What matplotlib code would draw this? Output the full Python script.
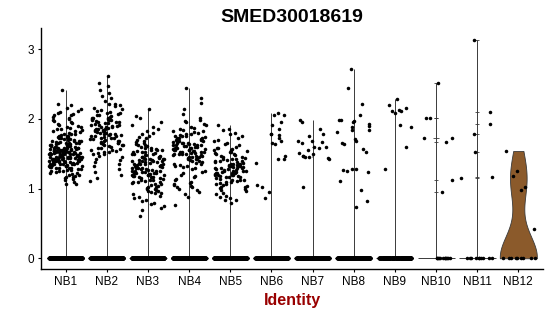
import numpy as np
import matplotlib
matplotlib.use("Agg")
from matplotlib import pyplot as plt

plt.rcParams['font.family'] = ['Liberation Sans', 'DejaVu Sans']

# Data (expression per cell, nonzero cells listed, zero cells counted)
groups = ["NB1", "NB2", "NB3", "NB4", "NB5", "NB6", "NB7", "NB8", "NB9", "NB10", "NB11", "NB12"]

nb1 = [2.41, 2.22, 2.20, 2.16, 2.14, 2.12, 2.10, 2.09, 2.07, 2.05, 2.05, 2.03, 2.01, 2.00, 1.98, 1.97, 1.95, 1.94, 1.93, 1.91,
       1.90, 1.89, 1.88, 1.87, 1.86, 1.85, 1.84, 1.83, 1.82, 1.81, 1.80, 1.79, 1.79, 1.78, 1.77, 1.76, 1.76, 1.75, 1.74, 1.74,
       1.73, 1.72, 1.72, 1.71, 1.71, 1.70, 1.70, 1.69, 1.69, 1.68, 1.68, 1.67, 1.67, 1.66, 1.66, 1.65, 1.65, 1.65, 1.64, 1.64,
       1.63, 1.63, 1.63, 1.62, 1.62, 1.62, 1.61, 1.61, 1.61, 1.60, 1.60, 1.60, 1.59, 1.59, 1.59, 1.58, 1.58, 1.58, 1.57, 1.57,
       1.57, 1.57, 1.56, 1.56, 1.56, 1.55, 1.55, 1.55, 1.55, 1.54, 1.54, 1.54, 1.53, 1.53, 1.53, 1.53, 1.52, 1.52, 1.52, 1.52,
       1.51, 1.51, 1.51, 1.51, 1.50, 1.50, 1.50, 1.50, 1.49, 1.49, 1.49, 1.49, 1.48, 1.48, 1.48, 1.48, 1.47, 1.47, 1.47, 1.47,
       1.46, 1.46, 1.46, 1.46, 1.45, 1.45, 1.45, 1.45, 1.44, 1.44, 1.44, 1.44, 1.43, 1.43, 1.43, 1.43, 1.42, 1.42, 1.42, 1.42,
       1.41, 1.41, 1.41, 1.40, 1.40, 1.40, 1.40, 1.39, 1.39, 1.39, 1.38, 1.38, 1.38, 1.37, 1.37, 1.37, 1.36, 1.36, 1.36, 1.35,
       1.35, 1.35, 1.34, 1.34, 1.33, 1.33, 1.33, 1.32, 1.32, 1.31, 1.31, 1.30, 1.30, 1.29, 1.29, 1.28, 1.28, 1.27, 1.27, 1.26,
       1.25, 1.25, 1.24, 1.23, 1.22, 1.21, 1.20, 1.19, 1.18, 1.17, 1.16, 1.15, 1.14, 1.12, 1.10, 1.07, 1.06]
nb2 = [2.62, 2.51, 2.48, 2.41, 2.37, 2.33, 2.30, 2.26, 2.22, 2.21, 2.20, 2.18, 2.16, 2.14, 2.13, 2.11, 2.10, 2.09, 2.08, 2.07,
       2.06, 2.05, 2.04, 2.03, 2.02, 2.02, 2.01, 2.00, 2.00, 1.99, 1.98, 1.98, 1.97, 1.96, 1.96, 1.95, 1.94, 1.94, 1.93, 1.92,
       1.92, 1.91, 1.90, 1.90, 1.89, 1.88, 1.88, 1.87, 1.86, 1.86, 1.85, 1.84, 1.84, 1.83, 1.82, 1.82, 1.81, 1.80, 1.80, 1.79,
       1.79, 1.78, 1.77, 1.77, 1.76, 1.75, 1.75, 1.74, 1.73, 1.73, 1.72, 1.71, 1.71, 1.70, 1.69, 1.69, 1.68, 1.67, 1.66, 1.66,
       1.65, 1.64, 1.63, 1.63, 1.62, 1.61, 1.60, 1.59, 1.58, 1.57, 1.56, 1.55, 1.54, 1.53, 1.52, 1.51, 1.50, 1.49, 1.47, 1.45,
       1.43, 1.41, 1.38, 1.35, 1.32, 1.28, 1.24, 1.20, 1.15, 1.11]
nb3 = [2.14, 2.04, 2.02, 1.96, 1.92, 1.88, 1.85, 1.82, 1.80, 1.78, 1.76, 1.74, 1.72, 1.70, 1.68, 1.67, 1.66, 1.64, 1.63, 1.62,
       1.61, 1.60, 1.59, 1.58, 1.57, 1.56, 1.55, 1.55, 1.54, 1.53, 1.52, 1.52, 1.51, 1.50, 1.50, 1.49, 1.48, 1.48, 1.47, 1.46,
       1.46, 1.45, 1.45, 1.44, 1.44, 1.43, 1.43, 1.42, 1.42, 1.41, 1.41, 1.40, 1.40, 1.39, 1.39, 1.38, 1.38, 1.37, 1.37, 1.36,
       1.36, 1.35, 1.35, 1.34, 1.34, 1.33, 1.33, 1.32, 1.32, 1.31, 1.31, 1.30, 1.30, 1.29, 1.29, 1.28, 1.28, 1.27, 1.27, 1.26,
       1.26, 1.25, 1.25, 1.24, 1.24, 1.23, 1.23, 1.22, 1.22, 1.21, 1.21, 1.20, 1.20, 1.19, 1.19, 1.18, 1.18, 1.17, 1.16, 1.16,
       1.15, 1.15, 1.14, 1.13, 1.13, 1.12, 1.11, 1.10, 1.10, 1.09, 1.08, 1.07, 1.06, 1.05, 1.04, 1.03, 1.02, 1.01, 1.00, 0.99,
       0.98, 0.97, 0.96, 0.95, 0.94, 0.93, 0.92, 0.90, 0.88, 0.86, 0.84, 0.82, 0.80, 0.78, 0.75, 0.72, 0.70, 0.61]
nb4 = [2.45, 2.30, 2.23, 2.14, 2.07, 2.02, 1.98, 1.97, 1.95, 1.93, 1.91, 1.89, 1.87, 1.85, 1.84, 1.83, 1.82, 1.81, 1.80, 1.79,
       1.78, 1.77, 1.76, 1.75, 1.75, 1.74, 1.73, 1.72, 1.72, 1.71, 1.70, 1.70, 1.69, 1.68, 1.68, 1.67, 1.66, 1.66, 1.65, 1.65,
       1.64, 1.64, 1.63, 1.63, 1.62, 1.62, 1.61, 1.61, 1.60, 1.60, 1.59, 1.59, 1.58, 1.58, 1.57, 1.57, 1.56, 1.56, 1.55, 1.55,
       1.54, 1.54, 1.53, 1.53, 1.52, 1.52, 1.51, 1.51, 1.50, 1.50, 1.49, 1.49, 1.48, 1.48, 1.47, 1.47, 1.46, 1.46, 1.45, 1.44,
       1.44, 1.43, 1.42, 1.42, 1.41, 1.40, 1.39, 1.38, 1.37, 1.36, 1.35, 1.34, 1.33, 1.32, 1.31, 1.30, 1.28, 1.26, 1.24, 1.22,
       1.20, 1.18, 1.16, 1.14, 1.12, 1.10, 1.08, 1.06, 1.05, 1.04, 1.03, 1.02, 1.00, 0.98, 0.95, 0.92, 0.88, 0.76]
nb5 = [1.91, 1.86, 1.84, 1.80, 1.78, 1.75, 1.72, 1.70, 1.68, 1.66, 1.64, 1.62, 1.60, 1.59, 1.58, 1.57, 1.56, 1.55, 1.54, 1.53,
       1.52, 1.51, 1.50, 1.49, 1.48, 1.47, 1.46, 1.45, 1.44, 1.43, 1.42, 1.42, 1.41, 1.40, 1.40, 1.39, 1.38, 1.38, 1.37, 1.36,
       1.36, 1.35, 1.35, 1.34, 1.34, 1.33, 1.33, 1.32, 1.32, 1.31, 1.31, 1.30, 1.30, 1.29, 1.29, 1.28, 1.28, 1.27, 1.27, 1.26,
       1.26, 1.25, 1.25, 1.24, 1.24, 1.23, 1.23, 1.22, 1.22, 1.21, 1.21, 1.20, 1.20, 1.19, 1.19, 1.18, 1.18, 1.17, 1.16, 1.16,
       1.15, 1.14, 1.13, 1.13, 1.12, 1.11, 1.10, 1.09, 1.08, 1.07, 1.06, 1.05, 1.04, 1.03, 1.02, 1.01, 1.00, 0.98, 0.96, 0.94,
       0.92, 0.90, 0.88, 0.86, 0.84, 0.83, 0.79]
nb6 = [2.09, 2.05, 2.06, 1.96, 1.91, 1.86, 1.79, 1.77, 1.79, 1.72, 1.65, 1.68, 1.64, 1.47, 1.42, 1.37, 1.43, 1.03, 1.05,
       0.95, 0.87]
nb7 = [1.99, 1.95, 1.86, 1.78, 1.75, 1.68, 1.69, 1.66, 1.67, 1.60, 1.60, 1.59, 1.56, 1.50, 1.47, 1.45, 1.51, 1.45, 1.42,
       1.47, 1.44, 1.03]
nb8 = [2.72, 2.44, 2.21, 2.05, 1.99, 1.98, 1.97, 1.95, 1.93, 1.90, 1.89, 1.84, 1.84, 1.81, 1.71, 1.69, 1.65, 1.64, 1.57,
       1.53, 1.28, 1.28, 1.27, 1.25, 1.24, 1.11, 0.98, 0.82, 0.74]
nb9 = [2.29, 2.20, 2.13, 2.12, 2.12, 2.08, 2.15, 1.91, 1.88, 1.60, 1.28]
nb10 = [2.51, 2.02, 2.01, 1.72, 1.72, 1.67, 1.13, 0.95]
nb11 = [3.14, 2.10, 1.93, 1.78, 1.53, 1.16, 1.15]
nb12 = [1.54, 1.26, 1.18, 1.03, 0.98, 0.42]

nonzero = [nb1, nb2, nb3, nb4, nb5, nb6, nb7, nb8, nb9, nb10, nb11, nb12]
zero_counts = [900, 700, 800, 800, 900, 500, 450, 600, 400, 12, 10, 9]

VIOLIN_EDGE = "#3a3a3a"
NB12_FILL = "#8B5A2B"


def nrd0(x):
    # R's default bandwidth (bw.nrd0)
    sd = np.std(x, ddof=1)
    q75, q25 = np.percentile(x, [75, 25])
    lo = min(sd, (q75 - q25) / 1.34)
    if lo == 0:
        lo = sd
    return 0.9 * lo * len(x) ** -0.2


def draw_spike_violin(ax, pos, vals, n_zero, half=0.45):
    # mostly zeros -> violin collapses to a line with a full-width foot at 0
    vals = np.asarray(vals)
    ax.vlines(pos, 0, vals.max(), color=VIOLIN_EDGE, lw=0.7, zorder=1)
    ax.hlines(0, pos - half, pos + half, color=VIOLIN_EDGE, lw=0.7, zorder=1)
    uniq, cnt = np.unique(vals, return_counts=True)
    w = half * cnt / n_zero
    ax.hlines(uniq, pos - w, pos + w, color=VIOLIN_EDGE, lw=0.6, zorder=1)


def jitter_offsets(n, shift):
    # deterministic scattered offsets in [0, 1) (quadratic Weyl sequence)
    k = np.arange(n) + 1 + shift
    return (k * 0.6180339887 + k * k * 0.7548776662) % 1


fig = plt.figure(figsize=(5.5, 3.16), dpi=100)
ax = fig.add_axes([41 / 550, (316 - 269.3) / 316, 502 / 550, 241 / 316])

positions = np.arange(1, len(groups) + 1)

for i, (pos, vals, nz) in enumerate(zip(positions, nonzero, zero_counts)):
    allv = np.concatenate([np.asarray(vals, float), np.zeros(nz)])
    if groups[i] == "NB12":
        sd = np.std(allv, ddof=1)
        vp = ax.violinplot([allv], positions=[pos], widths=0.9, bw_method=nrd0(allv) / sd,
                           showextrema=False, points=200)
        for b in vp['bodies']:
            b.set_facecolor(NB12_FILL)
            b.set_edgecolor(VIOLIN_EDGE)
            b.set_linewidth(0.6)
            b.set_alpha(1)
            b.set_zorder(1)
    else:
        draw_spike_violin(ax, pos, vals, nz)
    u = jitter_offsets(len(allv), i * 37)
    xj = pos + (u - 0.5) * 0.8
    ax.scatter(xj, allv, s=6.5, color="black", linewidths=0, zorder=3)

ax.set_xlim(0.4, 12.6)
ax.set_ylim(-0.158, 3.301)
ax.set_xticks(positions)
ax.set_xticklabels(groups)
ax.set_yticks([0, 1, 2, 3])
ax.set_yticklabels(["0", "1", "2", "3"])
ax.tick_params(labelsize=8.5, length=2.5, width=0.8, pad=2.5, colors="black")
for side in ["top", "right"]:
    ax.spines[side].set_visible(False)
for side in ["left", "bottom"]:
    ax.spines[side].set_linewidth(1.0)

fig.text(292 / 550, 1 - 22.3 / 316, "SMED30018619", ha="center", va="baseline",
         fontsize=14, fontweight="bold")
fig.text(292 / 550, 1 - 305 / 316, "Identity", ha="center", va="baseline",
         fontsize=11.5, fontweight="bold", color="#990000")

fig.savefig("out.png", dpi=100)
